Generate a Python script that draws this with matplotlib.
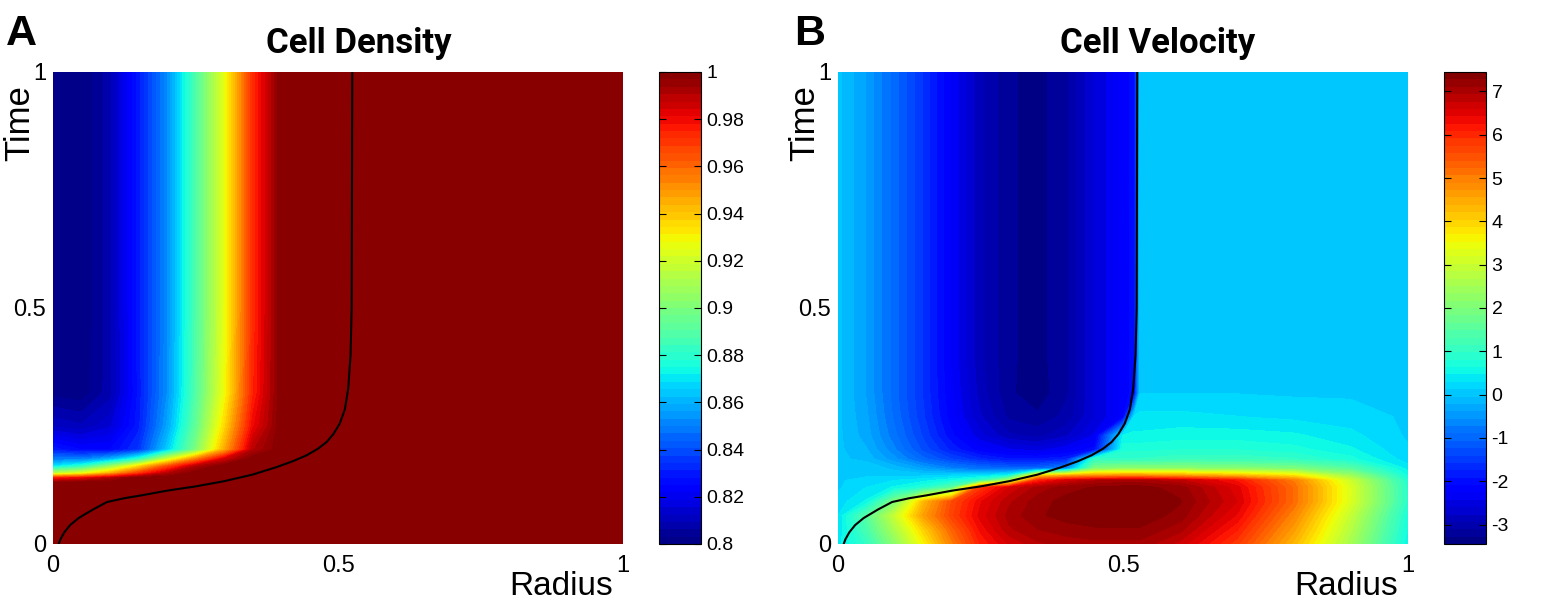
import numpy as np
import matplotlib
matplotlib.use('Agg')
import matplotlib.pyplot as plt

plt.rcParams['font.family'] = ['Liberation Sans', 'DejaVu Sans']

# moving front (black line), radius vs time
front_r = [0.01, 0.013, 0.02, 0.03, 0.045, 0.07, 0.095, 0.125, 0.155, 0.2, 0.25,
           0.3, 0.35, 0.39, 0.42, 0.445, 0.465, 0.48, 0.492, 0.503, 0.512,
           0.518, 0.522, 0.524, 0.525]
front_t = [0.0, 0.01, 0.025, 0.04, 0.055, 0.073, 0.089, 0.097, 0.103, 0.113, 0.122,
           0.133, 0.147, 0.162, 0.175, 0.188, 0.202, 0.216, 0.233, 0.255, 0.285,
           0.33, 0.4, 0.5, 1.0]

# panel A - cell density, read on a coarse radius x time grid
radius_a = [0, 0.05, 0.1, 0.15, 0.2, 0.25, 0.3, 0.35, 0.4, 1.0]
time_a = [0, 0.13, 0.14, 0.15, 0.165, 0.18, 0.2, 0.25, 0.32, 0.5, 1.0]
density_rows = [
    [1, 1, 1, 1, 1, 1, 1, 1, 1, 1],
    [0.998, 1, 1, 1, 1, 1, 1, 1, 1, 1],
    [0.975, 0.98, 0.99, 1, 1, 1, 1, 1, 1, 1],
    [0.915, 0.925, 0.945, 0.97, 0.99, 1, 1, 1, 1, 1],
    [0.87, 0.88, 0.905, 0.935, 0.965, 0.99, 1, 1, 1, 1],
    [0.85, 0.85, 0.86, 0.88, 0.92, 0.955, 0.985, 1, 1, 1],
    [0.83, 0.825, 0.825, 0.835, 0.865, 0.9, 0.945, 0.99, 1, 1],
    [0.812, 0.81, 0.815, 0.83, 0.857, 0.893, 0.935, 0.98, 1, 1],
    [0.802, 0.801, 0.808, 0.829, 0.853, 0.889, 0.927, 0.974, 1, 1],
    [0.80, 0.80, 0.808, 0.83, 0.852, 0.888, 0.925, 0.972, 1, 1],
    [0.80, 0.80, 0.808, 0.83, 0.852, 0.888, 0.925, 0.972, 1, 1],
]
density_ticks = [0.8, 0.82, 0.84, 0.86, 0.88, 0.9, 0.92, 0.94, 0.96, 0.98, 1.0]
density_labels = ['0.8', '0.82', '0.84', '0.86', '0.88', '0.9', '0.92',
                  '0.94', '0.96', '0.98', '1']

# panel B - cell velocity
radius_b = [0, 0.05, 0.1, 0.15, 0.2, 0.25, 0.3, 0.35, 0.4, 0.45, 0.5, 0.52,
            0.53, 0.6, 0.7, 0.8, 0.9, 1.0]
time_b = [0, 0.03, 0.06, 0.09, 0.12, 0.135, 0.145, 0.16, 0.18, 0.2, 0.23,
          0.27, 0.32, 0.4, 0.6, 1.0]
late_v = [0.0, -0.4, -1.0, -1.6, -2.3, -2.9, -3.25, -3.35, -3.15, -2.6, -2.2,
          -2.0, 0.09, 0.09, 0.09, 0.09, 0.09, 0.09]
velocity_rows = [
    [0.4, 1.0, 2.2, 3.6, 5.0, 6.1, 6.6, 6.9, 7.0, 7.05, 7.05, 7.05, 7.05, 6.7, 5.8, 4.3, 2.5, 0.5],
    [0.3, 1.3, 2.6, 4.0, 5.3, 6.3, 6.9, 7.1, 7.2, 7.25, 7.25, 7.25, 7.25, 7.0, 6.1, 4.6, 2.7, 0.6],
    [0.3, 1.5, 3.0, 4.6, 5.7, 6.5, 7.0, 7.25, 7.35, 7.4, 7.42, 7.42, 7.42, 7.2, 6.4, 4.9, 2.9, 0.7],
    [0.2, 0.5, 2.0, 4.3, 5.6, 6.4, 6.9, 7.2, 7.35, 7.42, 7.45, 7.45, 7.45, 7.3, 6.6, 5.2, 3.2, 0.9],
    [0.1, 0.3, 0.5, 0.8, 1.5, 5.8, 6.6, 7.0, 7.2, 7.3, 7.35, 7.35, 7.35, 7.2, 6.5, 5.2, 3.2, 0.9],
    [0.1, 0.2, 0.3, 0.4, 0.6, 1.0, 2.5, 6.0, 6.6, 6.9, 7.0, 7.0, 7.0, 6.8, 6.2, 5.0, 3.0, 0.8],
    [0.05, 0.1, 0.1, 0.1, 0.2, 0.3, 0.6, 4.0, 4.5, 4.7, 4.8, 4.8, 4.8, 4.6, 4.3, 3.8, 2.4, 0.6],
    [0.05, 0.1, -0.1, -0.4, -0.7, -0.9, -1.0, -1.0, -0.6, 2.0, 2.2, 2.2, 2.2, 2.2, 2.1, 2.0, 1.5, 0.4],
    [0.0, -0.1, -0.5, -1.0, -1.4, -1.7, -1.9, -1.9, -1.8, 1.0, 1.0, 1.0, 1.0, 1.1, 1.1, 1.0, 0.7, 0.2],
    [0.0, -0.2, -0.7, -1.3, -1.8, -2.2, -2.4, -2.5, -2.3, -2.0, 0.75, 0.75, 0.75, 0.8, 0.8, 0.7, 0.5, 0.15],
    [0.0, -0.3, -0.85, -1.45, -2.05, -2.55, -2.9, -3.0, -2.8, -2.4, 0.5, 0.5, 0.5, 0.55, 0.55, 0.5, 0.35, 0.1],
    [0.0, -0.35, -0.95, -1.55, -2.2, -2.75, -3.15, -3.25, -3.05, -2.6, -2.2, 0.35, 0.35, 0.35, 0.3, 0.25, 0.2, 0.1],
    [0.0, -0.4, -1.0, -1.6, -2.25, -2.85, -3.25, -3.38, -3.15, -2.6, -2.2, -2.0, 0.12, 0.12, 0.12, 0.1, 0.1, 0.09],
    late_v,
    late_v,
    late_v,
]
velocity_ticks = [-3, -2, -1, 0, 1, 2, 3, 4, 5, 6, 7]
velocity_labels = [str(v) for v in velocity_ticks]

W, H = 1546, 605
fig = plt.figure(figsize=(W / 100, H / 100), dpi=100)


def draw_panel(x0, cb_x0, r, t, rows, vmin, vmax, ticks, labels, title, title_x, letter, letter_x):
    ax = fig.add_axes([x0 / W, 61 / H, 570 / W, 472 / H])
    levels = np.linspace(vmin, vmax, 65)
    cs = ax.contourf(r, t, np.array(rows), levels=levels, cmap='jet')
    ax.plot(front_r, front_t, color='black', lw=1.5)
    ax.set_xlim(0, 1)
    ax.set_ylim(0, 1)
    ax.set_xticks([0, 0.5, 1])
    ax.set_xticklabels(['0', '0.5', '1'])
    ax.set_yticks([0, 0.5, 1])
    ax.set_yticklabels(['0', '0.5', '1'])
    ax.tick_params(axis='both', length=0, labelsize=17)
    ax.tick_params(axis='x', pad=8)
    ax.tick_params(axis='y', pad=5)
    for s in ax.spines.values():
        s.set_visible(False)
    ax.text(-33 / 570, 1 - 13 / 472, 'Time', rotation=90, ha='center', va='top',
            fontsize=25, transform=ax.transAxes)
    ax.text(1 - 10 / 570, -51 / 472, 'Radius', ha='right', va='baseline',
            fontsize=24, transform=ax.transAxes)

    cax = fig.add_axes([cb_x0 / W, 61 / H, 42 / W, 472 / H])
    cb = fig.colorbar(cs, cax=cax, ticks=ticks)
    cb.ax.set_yticklabels(labels)
    cb.ax.tick_params(direction='in', length=5, width=0.8, left=True, right=True,
                      labelsize=14, pad=4)
    cb.outline.set_linewidth(0.8)

    fig.text(title_x / W, 1 - 53 / H, title, ha='center', va='baseline',
             fontsize=25, fontweight='bold', family=['Roboto', 'DejaVu Sans'])
    fig.text(letter_x / W, 1 - 45 / H, letter, ha='left', va='baseline',
             fontsize=31, fontweight='bold')


draw_panel(53, 659, radius_a, time_a, density_rows, 0.8, 1.0,
           density_ticks, density_labels, 'Cell Density', 359, 'A', 6)
draw_panel(838, 1444, radius_b, time_b, velocity_rows, -3.45, 7.45,
           velocity_ticks, velocity_labels, 'Cell Velocity', 1158, 'B', 794)

fig.savefig('out.png', dpi=100)
